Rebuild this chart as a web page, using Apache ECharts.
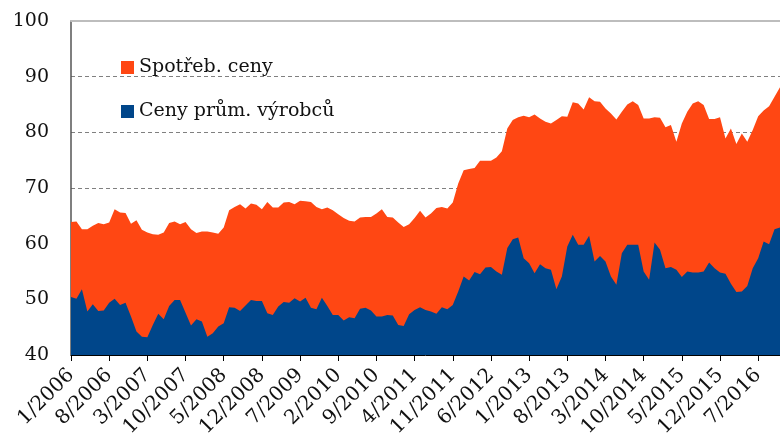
<!DOCTYPE html>
<html>
<head>
<meta charset="utf-8">
<script src="https://cdn.jsdelivr.net/npm/echarts@6/dist/echarts.min.js"></script>
<style>
html,body{margin:0;padding:0;background:#fff;}
#chart{width:780px;height:448px;}
</style>
</head>
<body>
<div id="chart"></div>
<script>
// Monthly categories 1/2006 .. 11/2016
var startYear = 2006, startMonth = 1, monthCount = 131;
var categories = [];
for (var k = 0; k < monthCount; k++) {
  var m = (startMonth - 1 + k) % 12 + 1;
  var y = startYear + Math.floor((startMonth - 1 + k) / 12);
  categories.push(m + '/' + y);
}

var seriesNames = ['Spotřeb. ceny', 'Ceny prům. výrobců'];

var consumerPrices = [
  63.9, 64.0, 62.6, 62.6, 63.2, 63.7, 63.5, 63.8, 66.2, 65.6, 65.5, 63.6,
  64.2, 62.5, 62.0, 61.7, 61.6, 62.0, 63.7, 64.0, 63.5, 63.9, 62.6, 61.9,
  62.2, 62.2, 62.0, 61.8, 62.9, 66.0, 66.6, 67.1, 66.3, 67.2, 67.0, 66.2,
  67.5, 66.5, 66.5, 67.4, 67.5, 67.1, 67.7, 67.6, 67.5, 66.6, 66.2, 66.5,
  66.0, 65.3, 64.6, 64.1, 64.0, 64.7, 64.8, 64.8, 65.4, 66.2, 64.8, 64.7,
  63.8, 63.0, 63.5, 64.6, 65.9, 64.7, 65.4, 66.4, 66.6, 66.3, 67.4, 70.8,
  73.2, 73.4, 73.6, 74.9, 74.9, 74.9, 75.5, 76.6, 80.7, 82.2, 82.7, 83.0,
  82.7, 83.2, 82.5, 81.9, 81.6, 82.2, 82.9, 82.8, 85.4, 85.2, 84.1, 86.3,
  85.6, 85.5, 84.3, 83.4, 82.3, 83.7, 85.0, 85.6, 84.9, 82.5, 82.5, 82.7,
  82.6, 80.9, 81.3, 78.3, 81.6, 83.7, 85.2, 85.6, 84.9, 82.4, 82.4, 82.7,
  78.9, 80.7, 77.9, 79.8, 78.3, 80.4, 82.9, 83.9, 84.7, 86.4, 88.1
];

var producerPrices = [
  50.4, 50.1, 51.8, 47.8, 49.1, 47.9, 48.0, 49.4, 50.1, 49.0, 49.4, 46.9,
  44.2, 43.3, 43.2, 45.4, 47.4, 46.4, 48.8, 49.9, 49.9, 47.6, 45.3, 46.4,
  46.0, 43.3, 43.9, 45.1, 45.7, 48.6, 48.5, 47.9, 48.9, 49.9, 49.7, 49.7,
  47.5, 47.2, 48.7, 49.5, 49.4, 50.2, 49.6, 50.3, 48.5, 48.2, 50.3, 48.8,
  47.2, 47.2, 46.2, 46.8, 46.6, 48.3, 48.5, 48.0, 46.9, 46.9, 47.2, 47.1,
  45.4, 45.2, 47.3, 48.1, 48.6, 48.1, 47.8, 47.4, 48.6, 48.2, 49.0, 51.4,
  54.1, 53.4, 54.9, 54.5, 55.7, 55.8, 55.0, 54.4, 59.2, 60.8, 61.1, 57.4,
  56.5, 54.7, 56.3, 55.6, 55.3, 51.8, 54.1, 59.5, 61.6, 59.8, 59.8, 61.4,
  56.8, 57.8, 56.8, 54.1, 52.6, 58.3, 59.8, 59.8, 59.8, 55.0, 53.5, 60.2,
  58.9, 55.6, 55.8, 55.3, 54.0, 55.0, 54.8, 54.8, 55.0, 56.6, 55.6, 54.8,
  54.6, 52.8, 51.3, 51.4, 52.4, 55.6, 57.4, 60.4, 59.9, 62.6, 62.9
];

var yMin = 40, yMax = 100, yStep = 10;

var chart = echarts.init(document.getElementById('chart'), null, {renderer: 'canvas'});
var serif = 'DejaVu Serif';
chart.setOption({
  animation: false,
  backgroundColor: '#ffffff',
  grid: {left: 71, right: 0, top: 21, bottom: 93, containLabel: false},
  legend: {
    orient: 'vertical',
    left: 116, top: 53,
    itemWidth: 13, itemHeight: 13,
    itemGap: 25,
    icon: 'rect',
    textStyle: {fontFamily: serif, fontSize: 19, color: '#111'},
    data: seriesNames
  },
  xAxis: [{
    type: 'category',
    data: categories,
    boundaryGap: false,
    axisLine: {show: true, lineStyle: {color: '#000', width: 1}},
    axisTick: {show: true, interval: 6, length: 6, lineStyle: {color: '#000'}},
    axisLabel: {interval: 6, rotate: 45, margin: 17, fontFamily: serif, fontSize: 20, color: '#111'},
    splitLine: {show: false}
  }, {
    type: 'category',
    position: 'top',
    data: categories,
    boundaryGap: false,
    axisLine: {show: true, lineStyle: {color: '#bdbdbd', width: 2}},
    axisTick: {show: false},
    axisLabel: {show: false},
    splitLine: {show: false}
  }],
  yAxis: {
    type: 'value',
    min: yMin, max: yMax, interval: yStep,
    axisLine: {show: true, lineStyle: {color: '#555', width: 1.5}},
    axisTick: {show: false},
    axisLabel: {margin: 22, fontFamily: serif, fontSize: 19, color: '#111'},
    splitLine: {show: true, lineStyle: {color: '#808080', type: [4, 3], width: 1}}
  },
  series: [{
    name: seriesNames[0],
    type: 'line',
    data: consumerPrices,
    symbol: 'none',
    lineStyle: {width: 0},
    itemStyle: {color: '#ff4713'},
    areaStyle: {color: '#ff4713', opacity: 1, origin: 'start'},
    z: 2
  }, {
    name: seriesNames[1],
    type: 'line',
    data: producerPrices,
    symbol: 'none',
    lineStyle: {width: 0},
    itemStyle: {color: '#00468a'},
    areaStyle: {color: '#00468a', opacity: 1, origin: 'start'},
    z: 3
  }]
});
</script>
</body>
</html>
